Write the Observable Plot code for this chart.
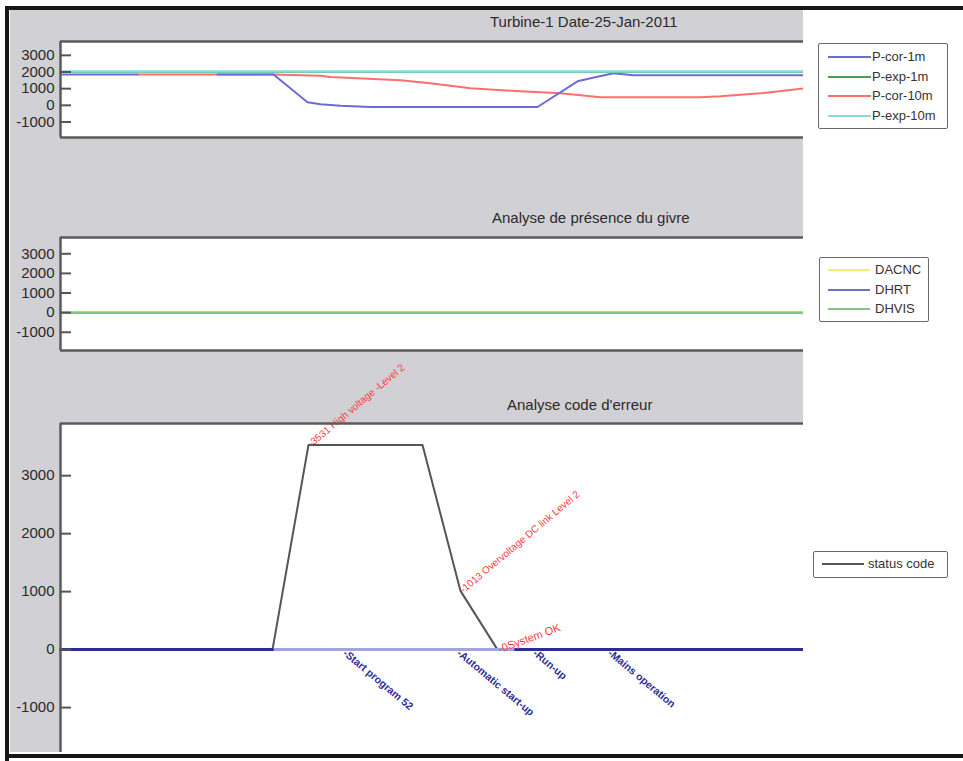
<!DOCTYPE html>
<html>
<head>
<meta charset="utf-8">
<script src="https://cdn.jsdelivr.net/npm/d3@7"></script>
<script src="https://cdn.jsdelivr.net/npm/@observablehq/plot@0.6"></script>
<style>
  html, body { margin: 0; padding: 0; background: #fff; }
  #fig { position: relative; width: 963px; height: 761px; overflow: hidden; background: #fff;
         font-family: "Liberation Sans", Arial, sans-serif; color: #2a2a2a; }
  .bar { position: absolute; background: #161616; }
  #gray { position: absolute; left: 10px; top: 10px; width: 793px; height: 742px; background: #d1d0d4; overflow: hidden; }
  .panel { position: absolute; left: 0; }
  .title { position: absolute; font-size: 15px; white-space: nowrap; color: #2b2b2b; }
  .legend { position: absolute; background: #fff; border: 1.5px solid #6a6a6a; border-radius: 2px; box-sizing: border-box; }
  .legend .row { position: absolute; left: 0; height: 16px; }
  .legend svg { position: absolute; top: 0; }
  .legend span { position: absolute; top: 0; font-size: 13px; line-height: 16px; color: #333; white-space: nowrap; }
</style>
</head>
<body>
<div id="fig">
  <div id="gray"></div>
</div>
<script>
// ---------- data (time in minutes from start of record) ----------
const xDomain = [0, 743];
const yTicks = [-1000, 0, 1000, 2000, 3000];

// Panel 1: power curves
const pCor1mT = [0, 77, 78, 156, 157, 213, 247, 260, 280, 310, 477, 517, 530, 553, 573, 743];
const pCor1mV = [1850, 1850, NaN, NaN, 1850, 1850, 180, 60, -30, -100, -100, 1440, 1620, 1920, 1800, 1800];
const pExp1mT = [0, 743];
const pExp1mV = [2000, 2000];
const pCor10mT = [77, 213, 260, 270, 340, 370, 410, 460, 500, 540, 640, 660, 700, 743];
const pCor10mV = [1850, 1850, 1780, 1700, 1500, 1320, 1020, 840, 720, 480, 480, 540, 720, 1020];
const pExp10mT = [0, 743];
const pExp10mV = [2030, 2030];

// Panel 2: icing detection
const givreT = [0, 743];
const dacncV = [0, 0];
const dhrtV = [0, 0];
const dhvisV = [0, 0];

// Panel 3: error codes
const statusT = [0, 212, 248, 362, 400, 437, 743];
const statusV = [0, 0, 3531, 3531, 1013, 0, 0];
const subStatusT = [0, 212, 213, 454, 455, 743];
const subStatusV = [0, 0, NaN, NaN, 0, 0];
const subStatusAllT = [0, 743];
const subStatusAllV = [0, 0];
const errLabelsT = [248, 400];
const errLabelsV = [3531, 1013];
const errLabels = ["-3531 High voltage -Level 2", "-1013 Overvoltage DC link Level 2"];
const okLabelT = [437];
const okLabelV = [0];
const okLabel = ["-0System OK"];
const eventT = [283, 397, 473, 548];
const eventLabels = ["-Start program 52", "-Automatic start-up", "-Run-up", "-Mains operation"];

// ---------- helpers ----------
const zip = (t, v) => t.map((d, i) => ({t: d, v: v[i]}));
const fontFamily = '"Liberation Sans", Arial, sans-serif';

function panel({top, plotHeight, yDomain, marks}) {
  const mt = 2, mb = 2;
  const chart = Plot.plot({
    width: 793,
    height: plotHeight + mt + mb,
    marginLeft: 50, marginRight: 0, marginTop: mt, marginBottom: mb,
    x: {domain: xDomain, axis: null},
    y: {domain: yDomain, axis: null},
    style: {background: "transparent", fontFamily, fontSize: "15px", color: "#2a2a2a", overflow: "visible"},
    marks: [
      Plot.frame({fill: "white", stroke: null}),
      ...marks,
      Plot.ruleY([yDomain[1]], {stroke: "#5b5b5b", strokeWidth: 2.5}),
      Plot.ruleY([yDomain[0]], {stroke: "#5b5b5b", strokeWidth: 2.5}),
      Plot.ruleX([xDomain[0]], {stroke: "#5b5b5b", strokeWidth: 2.5}),
      Plot.axisY({ticks: yTicks, tickFormat: d => String(d), tickSize: -11, tickPadding: 17, label: null,
                  stroke: "#555", strokeWidth: 2, fill: "#2a2a2a"})
    ]
  });
  chart.classList.add("panel");
  chart.style.top = top + "px";
  document.getElementById("gray").appendChild(chart);
}

const line = (t, v, stroke, w = 2) =>
  Plot.line(zip(t, v), {x: "t", y: "v", stroke, strokeWidth: w, curve: "linear"});

// Panel 1
panel({
  top: 29, plotHeight: 96, yDomain: [-1930, 3830],
  marks: [
    line(pCor10mT, pCor10mV, "#ff6e6e"),
    line(pCor1mT, pCor1mV, "#6c6cd2"),
    line(pExp1mT, pExp1mV, "#4aa04a"),
    line(pExp10mT, pExp10mV, "#86dada", 2.5)
  ]
});

// Panel 2
panel({
  top: 225, plotHeight: 113, yDomain: [-1930, 3830],
  marks: [
    line(givreT, dacncV, "#eeee70"),
    line(givreT, dhrtV, "#6f6fc8"),
    line(givreT, dhvisV, "#7ccc7c", 2.5)
  ]
});

// Panel 3
panel({
  top: 411, plotHeight: 338, yDomain: [-1930, 3900],
  marks: [
    line(statusT, statusV, "#555555", 2),
    line(subStatusAllT, subStatusAllV, "#a3a3de", 3),
    line(subStatusT, subStatusV, "#2c2c92", 3),
    Plot.text(errLabels, {x: errLabelsT, y: errLabelsV, text: d => d, rotate: -40, textAnchor: "start",
      fill: "#ff3b3b", fontSize: 10, dx: 1}),
    Plot.text(okLabel, {x: okLabelT, y: okLabelV, text: d => d, rotate: -20, textAnchor: "start",
      fill: "#ff3b3b", fontSize: 11, dx: 1}),
    Plot.text(eventLabels, {x: eventT, y: eventT.map(() => 0), text: d => d, rotate: 40, textAnchor: "start",
      fill: "#2f2f9a", fontSize: 10.5, fontWeight: "bold", dx: 1, dy: 2})
  ]
});

// ---------- titles ----------
const fig = document.getElementById("fig");
function addTitle(text, left, top) {
  const d = document.createElement("div");
  d.className = "title"; d.textContent = text;
  d.style.left = left + "px"; d.style.top = top + "px";
  fig.appendChild(d);
}
addTitle("Turbine-1 Date-25-Jan-2011", 490, 13);
addTitle("Analyse de présence du givre", 492, 209);
addTitle("Analyse code d'erreur", 507, 396);

// ---------- legends ----------
function addLegend({left, top, width, height, items, rowTops, lineX, textX}) {
  const box = document.createElement("div");
  box.className = "legend";
  Object.assign(box.style, {left: left + "px", top: top + "px", width: width + "px", height: height + "px"});
  items.forEach((it, i) => {
    const row = document.createElement("div");
    row.className = "row";
    row.style.top = rowTops[i] + "px";
    row.style.width = width + "px";
    row.innerHTML = `<svg width="${lineX[1] + 2}" height="16" style="left:0"><line x1="${lineX[0]}" x2="${lineX[1]}" y1="8" y2="8" stroke="${it.color}" stroke-width="2"/></svg><span style="left:${textX}px">${it.label}</span>`;
    box.appendChild(row);
  });
  fig.appendChild(box);
}
const legend1Labels = ["P-cor-1m", "P-exp-1m", "P-cor-10m", "P-exp-10m"];
const legend1Colors = ["#6c6cd2", "#4aa04a", "#ff6e6e", "#86dada"];
addLegend({left: 818, top: 43, width: 130, height: 86,
  items: legend1Labels.map((l, i) => ({label: l, color: legend1Colors[i]})),
  rowTops: [5, 25, 44, 64], lineX: [9, 52], textX: 53});
const legend2Labels = ["DACNC", "DHRT", "DHVIS"];
const legend2Colors = ["#eeee70", "#6f6fc8", "#7ccc7c"];
addLegend({left: 819, top: 257, width: 110, height: 65,
  items: legend2Labels.map((l, i) => ({label: l, color: legend2Colors[i]})),
  rowTops: [4, 24, 43], lineX: [8, 50], textX: 55});
addLegend({left: 813, top: 551, width: 135, height: 27,
  items: [{label: "status code", color: "#555555"}],
  rowTops: [4], lineX: [8, 50], textX: 54});

// ---------- outer black frame ----------
[[5, 6, 958, 4], [5, 6, 4, 755], [5, 754, 958, 4]].forEach(([l, t, w, h]) => {
  const b = document.createElement("div");
  b.className = "bar";
  Object.assign(b.style, {left: l + "px", top: t + "px", width: w + "px", height: h + "px"});
  fig.appendChild(b);
});
</script>
</body>
</html>
